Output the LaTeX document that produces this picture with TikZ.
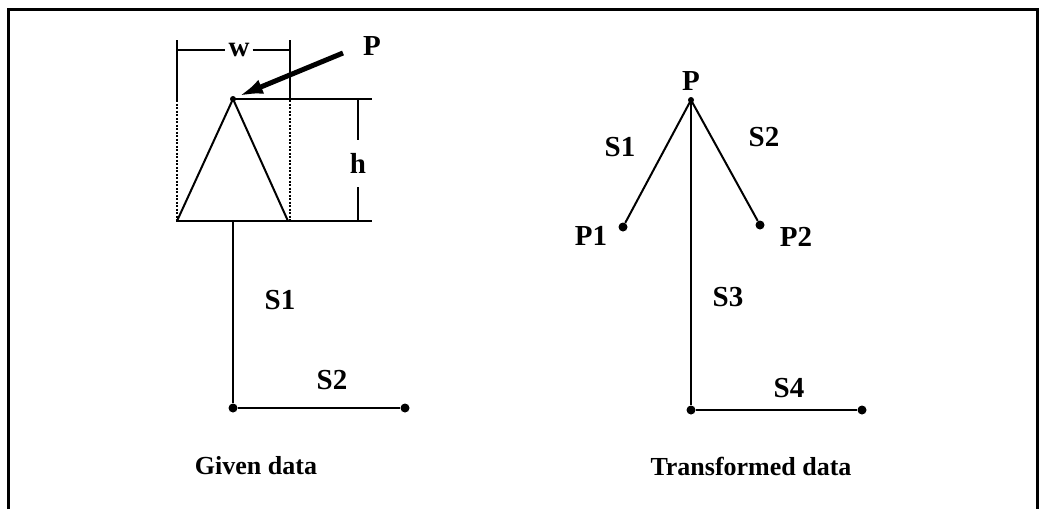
\documentclass[tikz,border=0pt]{standalone}
\usepackage{fontspec}
\setmainfont{Liberation Serif}
\usetikzlibrary{positioning,arrows.meta}
\tikzset{
  lbl/.style={font=\fontsize{29}{31}\selectfont\bfseries,inner sep=0pt},
  captxt/.style={font=\fontsize{26}{28}\selectfont\bfseries,inner sep=0pt},
  pt/.style={circle,fill=black,inner sep=0pt,minimum size=9pt},
  apx/.style={circle,fill=black,inner sep=0pt,minimum size=6pt},
  ln/.style={line width=2pt},
  dimln/.style={line width=1.8pt},
  dotln/.style={line width=1.6pt,dash pattern=on 2pt off 1.5pt},
  ar/.style={-{Latex[length=24pt,width=15pt]},line width=5pt},
}
\begin{document}
\begin{tikzpicture}[x=1pt,y=-1pt]
  \useasboundingbox (0,0) rectangle (1040,509);
  \draw[line width=3pt] (8,509) -- (8,9) -- (1037,9) -- (1037,509);
  % given data
  \node[apx] (p) at (233,99) {};
  \coordinate (bl) at (177,221); \coordinate (br) at (288,221);
  \coordinate (wl) at (177,40); \coordinate (wr) at (290,40);
  \coordinate (wl1) at (177,100); \coordinate (wr1) at (290,100);
  \coordinate (wl2) at (177,221); \coordinate (wr2) at (290,221);
  \coordinate (ht) at (372,99); \coordinate (hb) at (372,221);
  \coordinate (stem) at (233,221);
  \node[pt] (g1) at (233,408) {};
  \node[pt] (g2) at (405,408) {};
  \draw[ln] (bl) -- (p.center) -- (br);
  \draw[dimln] (wl) -- (wl1); \draw[dimln] (wr) -- (wr1);
  \draw[dotln] (wl1) -- (wl2); \draw[dotln] (wr1) -- (wr2);
  \node[lbl] (w) at (239,50) {w};
  \draw[dimln] (wl|-w) -- ([xshift=-3pt]w.west); \draw[dimln] ([xshift=3pt]w.east) -- (wr|-w);
  \draw[dimln] (p.center) -- (ht);
  \draw[dimln] (176,221) -- (hb);
  \node[lbl] (h) at (358,163) {h};
  \draw[dimln] (h|-ht) -- ([yshift=23pt]h.center);
  \draw[dimln] ([yshift=-24pt]h.center) -- (h|-hb);
  \node[lbl] (pl) at (372,46) {P};
  \coordinate (at) at (343,53);
  \draw[ar] (at) -- ([shift={(6pt,3pt)}]p.center);
  \draw[ln] (stem) -- (g1) -- (g2);
  \node[lbl] (s1) at (280,300) {S1};
  \node[lbl] (s2) at (332,380) {S2};
  \node[captxt] (given) at (256,466) {Given data};
  % transformed data
  \node[apx] (q) at (691,100) {};
  \node[lbl,above=6pt of q] (ql) {P};
  \node[pt] (q1) at (623,227) {};
  \node[pt] (q2) at (760,225) {};
  \node[pt] (t1) at (691,410) {};
  \node[pt] (t2) at (862,410) {};
  \draw[ln] (q1) -- (q.center) -- (q2);
  \draw[ln] (q.center) -- (t1) -- (t2);
  \node[lbl] (r1) at (620,147) {S1};
  \node[lbl] (r2) at (764,137) {S2};
  \node[lbl] (rp1) at (591,236) {P1};
  \node[lbl] (rp2) at (796,237) {P2};
  \node[lbl] (r3) at (728,297) {S3};
  \node[lbl] (r4) at (789,388) {S4};
  \node[captxt] (trans) at (751,466) {Transformed data};
\end{tikzpicture}
\end{document}
